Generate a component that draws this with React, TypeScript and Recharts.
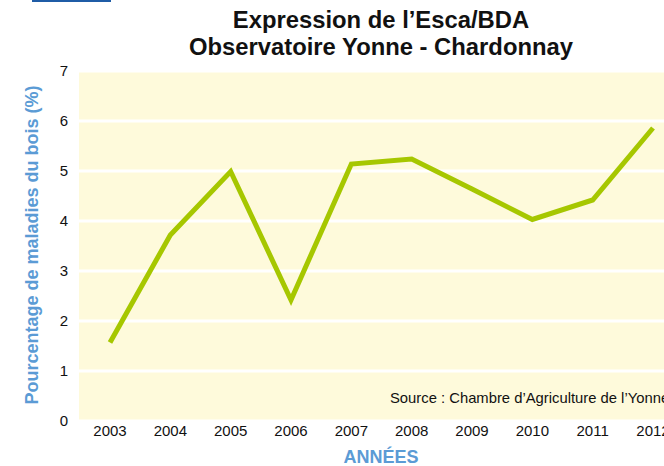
import React from "react";
import { LineChart, Line, XAxis, YAxis, CartesianGrid } from "recharts";

const years = ["2003", "2004", "2005", "2006", "2007", "2008", "2009", "2010", "2011", "2012"];
const values = [1.57, 3.72, 4.99, 2.42, 5.14, 5.24, 4.64, 4.03, 4.42, 5.86];
const yTicks = [0, 1, 2, 3, 4, 5, 6, 7];

const titleLines = ["Expression de l\u2019Esca/BDA", "Observatoire Yonne - Chardonnay"];
const yLabel = "Pourcentage de maladies du bois (%)";
const xLabel = "ANNÉES";
const sourceText = "Source : Chambre d\u2019Agriculture de l\u2019Yonne";

const data = years.map((y, i) => ({ year: y, v: values[i] }));

const FONT = "'Liberation Sans', Arial, Helvetica, sans-serif";
const BLUE = "#5b9bd5";

export default function App() {
  return (
    <div
      style={{
        position: "fixed",
        left: 0,
        top: 0,
        width: 664,
        height: 466,
        overflow: "hidden",
        background: "#fff",
        fontFamily: FONT,
      }}
    >
      <div style={{ position: "absolute", left: 32, top: 0, width: 79, height: 2, background: "#1f5ca6" }} />
      <LineChart
        width={700}
        height={466}
        data={data}
        margin={{ top: 71, right: 17, left: 0, bottom: 15 }}
      >
        <CartesianGrid
          horizontal={true}
          vertical={false}
          fill="#fefadb"
          fillOpacity={1}
          stroke="#ffffff"
          strokeWidth={3}
        />
        <XAxis
          dataKey="year"
          type="category"
          height={30}
          padding={{ left: 31, right: 30 }}
          axisLine={false}
          tickLine={false}
          tickSize={0}
          tickMargin={4}
          interval={0}
          tick={{ fill: "#111", fontSize: 15, fontFamily: FONT }}
        />
        <YAxis
          domain={[0, 7]}
          ticks={yTicks}
          width={79}
          axisLine={false}
          tickLine={false}
          tickSize={0}
          tickMargin={11}
          tick={{ fill: "#111", fontSize: 15, fontFamily: FONT }}
        />
        <Line
          type="linear"
          dataKey="v"
          stroke="#a6c700"
          strokeWidth={5}
          dot={false}
          activeDot={false}
          strokeLinejoin="miter"
          isAnimationActive={false}
        />
      </LineChart>
      <div
        style={{
          position: "absolute",
          left: 0,
          width: 762,
          top: 6,
          textAlign: "center",
          fontWeight: "bold",
          fontSize: 23.8,
          lineHeight: "27px",
          color: "#111",
        }}
      >
        {titleLines.map((t) => (
          <div key={t}>{t}</div>
        ))}
      </div>
      <div
        style={{
          position: "absolute",
          left: 32,
          top: 245,
          transform: "translate(-50%, -50%) rotate(-90deg)",
          whiteSpace: "nowrap",
          fontWeight: "bold",
          fontSize: 18,
          color: BLUE,
        }}
      >
        {yLabel}
      </div>
      <div
        style={{
          position: "absolute",
          left: 0,
          width: 762,
          top: 447,
          textAlign: "center",
          fontWeight: "bold",
          fontSize: 18,
          color: BLUE,
        }}
      >
        {xLabel}
      </div>
      <div
        style={{
          position: "absolute",
          left: 390,
          top: 390,
          whiteSpace: "nowrap",
          fontSize: 14.8,
          color: "#111",
        }}
      >
        {sourceText}
      </div>
    </div>
  );
}
